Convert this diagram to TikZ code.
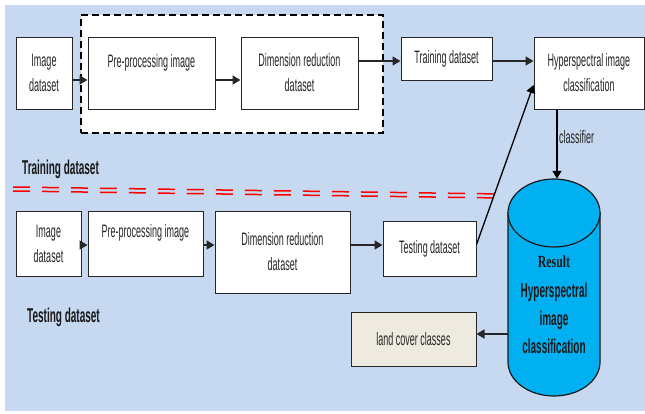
\documentclass[tikz,border=0pt]{standalone}
\usepackage{fontspec}
\setmainfont{Liberation Sans}[FakeStretch=0.5]
\newfontfamily\resfont{Liberation Serif}[FakeStretch=0.7]
\usetikzlibrary{arrows.meta,calc}
\definecolor{bgblue}{HTML}{C6D9F0}
\definecolor{cylblue}{HTML}{00B0F0}
\definecolor{landfill}{HTML}{EEEAE0}
\begin{document}
\begin{tikzpicture}[x=1pt,y=-1pt,
  box/.style={draw=black!85, line width=1pt, fill=white, inner sep=0pt, align=center,
    font=\fontsize{18}{25}\selectfont, text=black!85},
  arr/.style={line width=1.6pt, draw=black!85, -{Triangle[length=8pt,width=9pt]}},
  thinarr/.style={line width=1.3pt, draw=black, -{Triangle[length=8pt,width=9pt]}},
  redsep/.style={draw=red, line width=1.5pt, dash pattern=on 17pt off 12pt},
  lbl/.style={font=\bfseries\fontsize{20}{24}\selectfont, anchor=west, inner sep=0pt, text=black!90}]
\useasboundingbox (0,0) rectangle (645,413);
\fill[bgblue] (5,5) rectangle (645,411);

% dashed group
\node[draw=black, fill=white, line width=1.8pt, dash pattern=on 7pt off 4pt,
  minimum width=302pt, minimum height=118pt, inner sep=0pt] (grp) at (232,74) {};

% top row
\node[box, minimum width=56pt, minimum height=72pt] (img1) at (44,73) {Image\\dataset};
\node[box, minimum width=127pt, minimum height=72pt] (pre1) at (151.5,73) {Pre-processing image\\\mbox{}};
\node[box, minimum width=117pt, minimum height=72pt] (dim1) at (299.5,73) {Dimension reduction\\dataset};
\node[box, minimum width=91pt, minimum height=43pt] (train) at (446.5,58.5) {Training dataset};
\node[box, minimum width=110pt, minimum height=72pt] (hyp) at (589,73) {Hyperspectral image\\classification};

\draw[arr] ($(img1.east)+(0,7)$) -- ($(pre1.west)+(0,7)$);
\draw[arr] ($(pre1.east)+(0,7)$) -- ($(dim1.west)+(0,7)$);
\draw[arr] ($(dim1.east)+(0,-12)$) -- ($(train.west)+(0,2.5)$);
\draw[arr] ($(train.east)+(0,2.5)$) -- ($(hyp.west)+(0,-12)$);

% labels
\node[lbl] (trlbl) at (22,169) {Training dataset};
\node[lbl] (telbl) at (27,317) {Testing dataset};

% red separator (double dashed)
\coordinate (r1) at (13,189);
\coordinate (r2) at (502,196);
\draw[redsep] ($(r1)+(0,-2)$) -- ($(r2)+(0,-2)$);
\draw[redsep] ($(r1)+(0,2)$) -- ($(r2)+(0,2)$);

% bottom row
\node[box, minimum width=65pt, minimum height=65pt] (img2) at (48.5,243.5) {Image\\dataset};
\node[box, minimum width=115pt, minimum height=65pt] (pre2) at (145.5,243.5) {Pre-processing image\\\mbox{}};
\node[box, minimum width=135pt, minimum height=82pt] (dim2) at (282.5,252) {Dimension reduction\\dataset};
\node[box, minimum width=93pt, minimum height=55pt] (test) at (429.5,248.5) {Testing dataset};

\draw[arr] ($(img2.east)+(0,1.5)$) -- ($(pre2.west)+(0,1.5)$);
\draw[arr] ($(pre2.east)+(0,1.5)$) -- ($(dim2.west)+(0,-7)$);
\draw[arr] ($(dim2.east)+(0,-7)$) -- ($(test.west)+(0,-3.5)$);

% cylinder
\node[minimum width=92pt, minimum height=217pt, inner sep=0pt] (cyl) at (554,287.5) {};
\draw[fill=cylblue, line width=1.2pt, draw=black!90] (508,213) -- (508,362)
  arc[start angle=180, end angle=360, x radius=46pt, y radius=34pt] -- (600,213) -- cycle;
\draw[fill=cylblue, line width=1.2pt, draw=black!90] (554,213) ellipse [x radius=46pt, y radius=34pt];
\node[font=\resfont\bfseries\fontsize{17}{18}\selectfont, text=black!90] (res) at (554,262) {Result};
\node[font=\bfseries\fontsize{20}{28}\selectfont, align=center, text=black!90, inner sep=0pt] (cyltxt) at (554,318.5)
  {Hyperspectral\\image\\classification};

% land cover
\node[box, fill=landfill, minimum width=125pt, minimum height=54pt] (land) at (413.5,339) {land cover classes};

% connectors to/from classifier
\draw[thinarr] ($(test.east)+(0,-4)$) -- ($(hyp.west)+(0,12)$);
\draw[thinarr] ($(hyp.south -| cyl.north)+(3,0)$) -- ($(cyl.north)+(3,0)$);
\node[font=\fontsize{18}{20}\selectfont, anchor=west, inner sep=0pt, text=black!85] (clf) at (559,137) {classifier};
\draw[arr] ($(cyl.west |- land.east)+(0,-5)$) -- ($(land.east)+(0,-5)$);
\end{tikzpicture}
\end{document}
